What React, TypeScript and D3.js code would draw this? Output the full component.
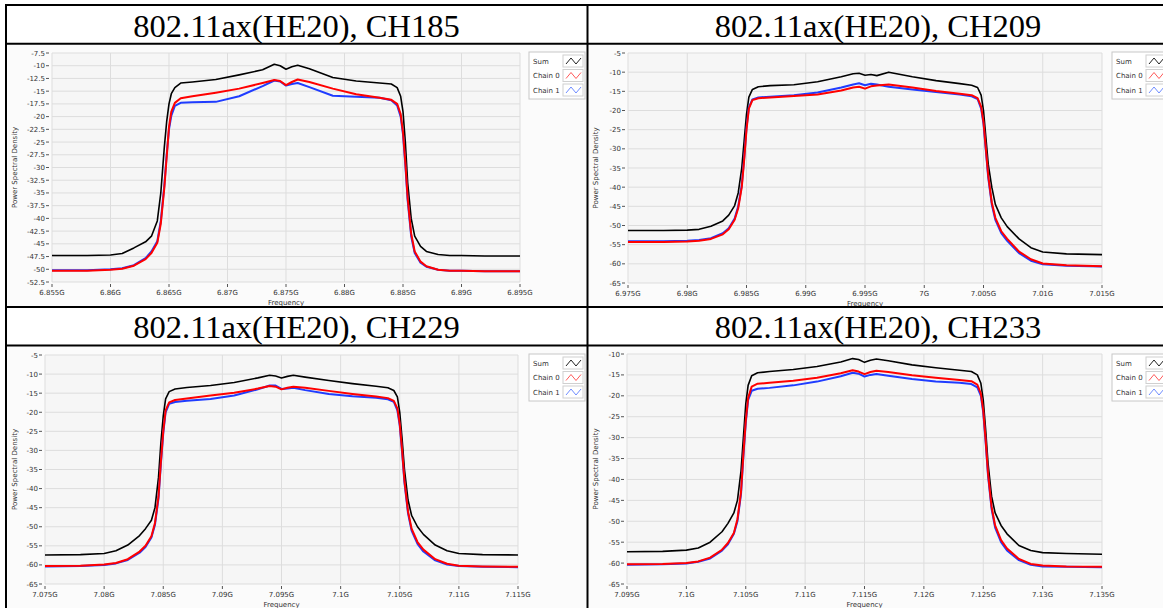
import React from "react";
import * as d3 from "d3";

// Frequency offsets from the channel centre, in MHz
const OFFSETS = [-20, -17, -15, -14, -13, -12, -11.5, -11, -10.7, -10.4, -10.2, -10, -9.8, -9.5, -9, -8, -6, -4, -2, -1, -0.5, 0, 0.5, 1, 2, 4, 6, 8, 9, 9.5, 9.8, 10, 10.2, 10.4, 10.7, 11, 11.5, 12, 13, 14, 15, 17, 20];

const SERIES_NAMES = ["Sum", "Chain 0", "Chain 1"];

// CH185
const CH185_SUM = [-47.3, -47.3, -47.2, -46.9, -45.8, -44.6, -43.5, -40.5, -35, -26, -21, -17.5, -15.5, -14.3, -13.4, -13.2, -12.7, -11.8, -10.8, -9.7, -10.0, -10.7, -10.2, -9.9, -10.6, -12.3, -13.0, -13.4, -13.6, -14.3, -16, -19, -25, -33, -40, -43.5, -45.5, -46.5, -47.1, -47.3, -47.3, -47.4, -47.4];
const CH185_C0 = [-50.3, -50.3, -50.1, -49.9, -49.3, -48.0, -46.8, -44.8, -41, -34, -28, -22, -19, -17.3, -16.4, -16.0, -15.3, -14.5, -13.4, -12.8, -13.0, -13.8, -13.2, -12.7, -13.2, -14.5, -15.6, -16.3, -16.7, -17.5, -19.5, -23, -29, -36, -43, -46.5, -48.5, -49.4, -50.1, -50.3, -50.3, -50.4, -50.4];
const CH185_C1 = [-50.2, -50.2, -50.0, -49.8, -49.2, -47.8, -46.5, -44.5, -40.5, -33.5, -27.5, -22.5, -19.8, -17.9, -17.3, -17.2, -17.1, -16.0, -14.0, -12.9, -13.1, -13.9, -13.6, -13.4, -14.2, -15.9, -16.1, -16.3, -16.8, -17.8, -20, -23.5, -29.5, -36.5, -43.5, -46.8, -48.7, -49.5, -50.1, -50.3, -50.3, -50.4, -50.4];

// CH209
const CH209_SUM = [-51.3, -51.3, -51.2, -51.0, -50.2, -48.8, -47.3, -44.8, -41.5, -35, -28, -21, -16.5, -14.5, -13.8, -13.5, -13.3, -12.5, -11.2, -10.4, -10.3, -10.8, -10.6, -10.9, -10.0, -11.2, -12.2, -13.0, -13.4, -14.0, -16, -20, -27, -34, -40, -44.5, -48, -50.3, -53.5, -55.8, -56.9, -57.4, -57.6];
const CH209_C0 = [-54.3, -54.3, -54.2, -54.0, -53.5, -52.3, -51, -48.5, -45.5, -40, -33, -25, -19.5, -17.3, -16.8, -16.6, -16.2, -15.8, -14.8, -14.0, -13.8, -14.3, -13.7, -13.5, -13.2, -14.0, -14.9, -15.6, -16.0, -16.8, -19, -23, -30, -37, -44, -48, -51.5, -53.5, -56.8, -58.8, -59.9, -60.4, -60.6];
const CH209_C1 = [-54.1, -54.1, -54.0, -53.8, -53.3, -52.0, -50.7, -48.2, -45, -39.5, -32.5, -24.5, -19.2, -17.1, -16.6, -16.4, -16.0, -15.3, -14.0, -13.2, -12.9, -13.4, -13.0, -13.2, -13.8, -14.5, -15.2, -15.8, -16.3, -17.0, -19.5, -23.5, -30.5, -37.5, -44.5, -48.5, -52, -54, -57.2, -59.2, -60.1, -60.5, -60.7];

// CH229
const CH229_SUM = [-57.4, -57.3, -57.0, -56.3, -54.8, -52.3, -50.5, -48.3, -45, -37, -28, -21, -16.5, -14.6, -13.9, -13.5, -13.0, -12.2, -11.0, -10.3, -10.5, -11.0, -10.6, -10.3, -10.8, -11.7, -12.5, -13.2, -13.6, -14.3, -16, -20, -27, -35, -43, -47, -50, -52, -54.8, -56.3, -57.0, -57.3, -57.4];
const CH229_C0 = [-60.3, -60.2, -59.9, -59.5, -58.5, -56.5, -55, -52.5, -49, -42, -33, -25, -19.5, -17.4, -16.8, -16.4, -15.6, -14.9, -13.8, -13.1, -13.3, -14.0, -13.6, -13.3, -13.6, -14.4, -15.2, -15.9, -16.3, -17, -19, -23, -30, -38, -46, -50.5, -54, -56, -58.5, -59.7, -60.2, -60.4, -60.5];
const CH229_C1 = [-60.4, -60.3, -60.0, -59.6, -58.7, -56.8, -55.3, -52.8, -49.5, -42.5, -33.5, -25.5, -20, -17.8, -17.3, -17.0, -16.5, -15.6, -14.0, -13.0, -13.0, -13.9, -13.8, -13.6, -14.2, -15.2, -15.8, -16.2, -16.6, -17.3, -19.5, -23.5, -30.5, -38.5, -46.5, -51, -54.5, -56.5, -58.8, -59.9, -60.3, -60.5, -60.6];

// CH233
const CH233_SUM = [-57.3, -57.2, -56.9, -56.4, -55.0, -52.5, -50.5, -48, -45, -38, -30, -22, -17.5, -15.2, -14.5, -14.2, -13.7, -13.0, -11.9, -11.1, -11.3, -12.0, -11.5, -11.2, -11.6, -12.6, -13.3, -13.9, -14.2, -15, -17, -21, -28, -36, -44, -48, -51, -53, -55.8, -57.0, -57.5, -57.7, -57.9];
const CH233_C0 = [-60.3, -60.2, -60.0, -59.6, -58.7, -56.8, -55.2, -52.8, -49.5, -43, -34, -26, -20.5, -17.8, -17.1, -16.9, -16.4, -15.7, -14.6, -13.9, -14.2, -14.8, -14.3, -14.0, -14.3, -15.1, -15.7, -16.2, -16.5, -17.3, -19.5, -23.5, -30.5, -38.5, -46.5, -51, -54.5, -56.5, -59, -60.2, -60.6, -60.8, -60.9];
const CH233_C1 = [-60.4, -60.3, -60.1, -59.7, -58.9, -57, -55.5, -53, -50, -43.5, -34.5, -26.5, -21, -18.8, -18.3, -18.1, -17.5, -16.6, -15.3, -14.5, -14.7, -15.4, -15.0, -14.8, -15.2, -16.0, -16.6, -16.9, -17.2, -18, -20, -24, -31, -39, -47, -51.5, -55, -57, -59.3, -60.4, -60.8, -60.9, -61.0];

const TITLES = ["802.11ax(HE20), CH185", "802.11ax(HE20), CH209", "802.11ax(HE20), CH229", "802.11ax(HE20), CH233"];
const CENTERS = [6.875, 6.995, 7.095, 7.115]; // GHz
const X_DOMAINS = [[6.855, 6.895], [6.975, 7.015], [7.075, 7.115], [7.095, 7.135]];
const Y_DOMAINS = [[-52.5, -7.5], [-65, -5], [-65, -5], [-65, -10]];
const Y_STEPS = [2.5, 5, 5, 5];
const DATA = [
  [CH185_SUM, CH185_C0, CH185_C1],
  [CH209_SUM, CH209_C0, CH209_C1],
  [CH229_SUM, CH229_C0, CH229_C1],
  [CH233_SUM, CH233_C0, CH233_C1],
];

// layout (pixels)
const LAYOUT = [
  { cell: [8, 45, 578, 261], titleY: 37, titleX: 296.5, xr: [52, 520], yr: [282, 53], legend: [529, 52], ylabX: 17 },
  { cell: [589, 45, 580, 261], titleY: 37, titleX: 878, xr: [628, 1102], yr: [283, 53], legend: [1112, 52], ylabX: 598 },
  { cell: [8, 347, 578, 261], titleY: 338, titleX: 296.5, xr: [45, 518], yr: [584, 355], legend: [529, 354], ylabX: 17 },
  { cell: [589, 347, 580, 261], titleY: 338, titleX: 878, xr: [627, 1102], yr: [584, 354], legend: [1112, 354], ylabX: 598 },
];

const COLORS = ["#000000", "#ff0000", "#1f3cff"];
const ICON_COLORS = ["#222222", "#ff5a5a", "#6f8cff"];
const FONT = "'DejaVu Sans', Verdana, sans-serif";

function fmtFreq(v: number) {
  return parseFloat(v.toFixed(3)).toString() + "G";
}

function Panel({ idx }: { idx: number }) {
  const L = LAYOUT[idx];
  const x = d3.scaleLinear().domain(X_DOMAINS[idx]).range(L.xr);
  const y = d3.scaleLinear().domain(Y_DOMAINS[idx]).range(L.yr);
  const [y0, y1] = Y_DOMAINS[idx];
  const step = Y_STEPS[idx];
  const yTicks = d3.range(Math.round((y1 - y0) / step) + 1).map((i) => y0 + i * step);
  const xTicks = d3.range(9).map((i) => X_DOMAINS[idx][0] + i * 0.005);
  const center = CENTERS[idx];
  const line = d3
    .line<number>()
    .x((_, i) => x(center + OFFSETS[i] / 1000))
    .y((d) => y(d));
  const [px0, px1] = L.xr;
  const [pyB, pyT] = L.yr;
  const order = [0, 2, 1];
  const [lx, ly] = L.legend;
  return (
    <g>
      <rect x={L.cell[0]} y={L.cell[1]} width={L.cell[2]} height={L.cell[3]} fill="#fbfbfb" />
      <rect x={px0} y={pyT} width={px1 - px0} height={pyB - pyT} fill="#f6f6f6" />
      {yTicks.map((t) => (
        <line key={"gy" + t} x1={px0} x2={px1} y1={y(t)} y2={y(t)} stroke="#dddddd" strokeWidth={1} />
      ))}
      {xTicks.map((t, i) => (
        <line key={"gx" + i} x1={x(t)} x2={x(t)} y1={pyT} y2={pyB} stroke="#dddddd" strokeWidth={1} />
      ))}
      {order.map((s) => (
        <path key={"s" + s} d={line(DATA[idx][s]) || ""} fill="none" stroke={COLORS[s]} strokeWidth={s === 0 ? 1.6 : 2} strokeLinejoin="round" />
      ))}
      {yTicks.map((t) => (
        <g key={"ty" + t}>
          <line x1={px0 - 6} x2={px0 - 3} y1={y(t)} y2={y(t)} stroke="#555" strokeWidth={1} />
          <text x={px0 - 7} y={y(t) + 2.5} textAnchor="end" fontSize={7} fontFamily={FONT} fill="#333">
            {String(t)}
          </text>
        </g>
      ))}
      {xTicks.map((t, i) => (
        <g key={"tx" + i}>
          <line x1={x(t)} x2={x(t)} y1={pyB + 2} y2={pyB + 5} stroke="#555" strokeWidth={1} />
          <text x={x(t)} y={pyB + 13} textAnchor="middle" fontSize={7} fontFamily={FONT} fill="#333">
            {fmtFreq(t)}
          </text>
        </g>
      ))}
      <text x={(px0 + px1) / 2} y={pyB + 23} textAnchor="middle" fontSize={7} fontFamily={FONT} fill="#333">
        Frequency
      </text>
      <text
        transform={`translate(${L.ylabX},${(pyT + pyB) / 2}) rotate(-90)`}
        textAnchor="middle"
        fontSize={7}
        fontFamily={FONT}
        fill="#333"
      >
        Power Spectral Density
      </text>
      <rect x={lx} y={ly} width={56} height={47} fill="#ffffff" stroke="#c8c8c8" strokeWidth={1} />
      {SERIES_NAMES.map((n, i) => {
        const yc = ly + 9 + i * 14.5;
        const ix = lx + 34;
        return (
          <g key={"lg" + i}>
            <text x={lx + 4} y={yc + 2.5} fontSize={7} fontFamily={FONT} fill="#333">
              {n}
            </text>
            <rect x={ix} y={yc - 6} width={20} height={12} fill="#ffffff" stroke="#d0d0d0" strokeWidth={1} />
            <polyline
              points={`${ix + 3},${yc + 3} ${ix + 8},${yc - 3} ${ix + 13},${yc + 3} ${ix + 18},${yc - 3}`}
              fill="none"
              stroke={ICON_COLORS[i]}
              strokeWidth={1}
            />
          </g>
        );
      })}
    </g>
  );
}

export default function App() {
  const W = 1163;
  const H = 608;
  return (
    <svg width={W} height={H} style={{ position: "fixed", left: 0, top: 0, background: "#ffffff" }}>
      <rect x={0} y={0} width={W} height={H} fill="#ffffff" />
      {[0, 1, 2, 3].map((i) => (
        <Panel key={i} idx={i} />
      ))}
      {TITLES.map((t, i) => (
        <text
          key={t}
          x={LAYOUT[i].titleX}
          y={LAYOUT[i].titleY}
          textAnchor="middle"
          fontSize={32.5}
          fontFamily="'Liberation Serif', 'DejaVu Serif', serif"
          fill="#000"
        >
          {t}
        </text>
      ))}
      {/* table rules */}
      <line x1={5} x2={W} y1={5} y2={5} stroke="#000" strokeWidth={2} />
      <line x1={5} x2={W} y1={43.7} y2={43.7} stroke="#000" strokeWidth={2} />
      <line x1={5} x2={W} y1={307} y2={307} stroke="#000" strokeWidth={2} />
      <line x1={5} x2={W} y1={345.5} y2={345.5} stroke="#000" strokeWidth={2} />
      <line x1={6} x2={6} y1={4} y2={H} stroke="#000" strokeWidth={2} />
      <line x1={587.5} x2={587.5} y1={4} y2={H} stroke="#000" strokeWidth={2} />
    </svg>
  );
}
